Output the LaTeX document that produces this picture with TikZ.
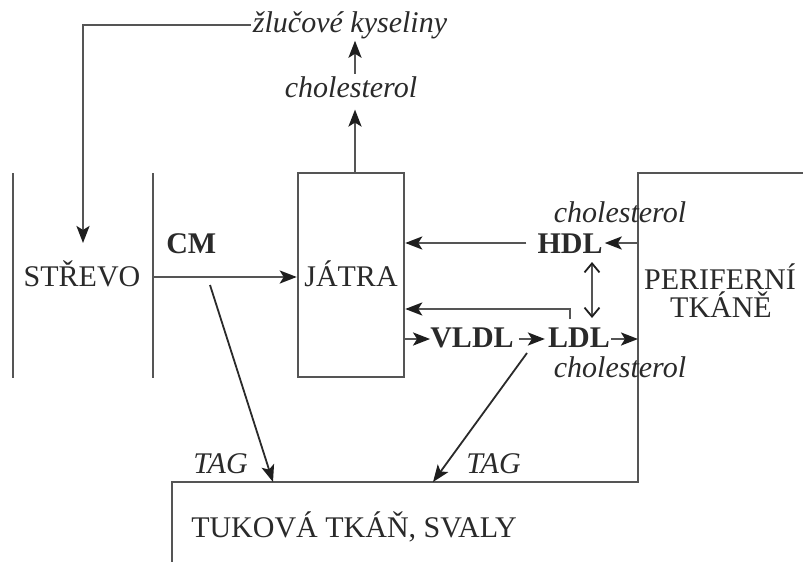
\documentclass[tikz,border=0pt]{standalone}
\usepackage{fontspec}
\setmainfont{Liberation Serif}
\usetikzlibrary{arrows.meta}
\definecolor{ln}{HTML}{555555}
\definecolor{txt}{HTML}{2A2A2A}
\definecolor{tip}{HTML}{1E1E1E}
\begin{document}
\begin{tikzpicture}[x=1pt,y=-1pt,line width=2.5pt,draw=ln,
  lbl/.style={inner sep=0pt,text=txt,font=\fontsize{30}{34}\selectfont},
  itl/.style={lbl,font=\fontsize{30}{34}\selectfont\itshape},
  bfl/.style={lbl,font=\fontsize{30}{34}\selectfont\bfseries},
  arr/.style={-{Stealth[length=17pt,width=13pt,inset=4pt,color=tip]}},
  dbl/.style={{Straight Barb[length=9pt,width=15pt,color=tip,line width=1.8pt]}-{Straight Barb[length=9pt,width=15pt,color=tip,line width=1.8pt]}},
  box/.style={draw=ln,minimum width=106pt,minimum height=204pt,inner sep=0pt}]
\useasboundingbox (0,0) rectangle (803,562);
\fill[white] (0,0) rectangle (803,562);
% intestine walls
\coordinate (s1t) at (13,173); \coordinate (s1b) at (13,378);
\coordinate (s2t) at (153,173); \coordinate (s2b) at (153,378);
\draw (s1t) -- (s1b);
\draw (s2t) -- (s2b);
\node[lbl,anchor=base] (strevo) at (82,286) {STŘEVO};
\node[bfl,anchor=base west] (cm) at (165,253) {CM};
% liver
\node[box] (jatra) at (351,275) {};
\node[lbl,anchor=base] (jatratxt) at (351,286) {JÁTRA};
\coordinate (cmfrom) at (153,277);
\draw[arr] (cmfrom) -- (cmfrom -| jatra.west);
% top
\node[itl,anchor=base] (chol1) at (351,97) {cholesterol};
\node[itl,anchor=base] (zk) at (350,32) {žlučové kyseliny};
\draw[arr] ([xshift=4pt]jatra.north) -- ([xshift=4pt,yshift=-11pt]chol1.south);
\draw[arr] ([xshift=4pt,yshift=1pt]chol1.north) -- ([xshift=5pt,yshift=-1pt]zk.south);
\coordinate (fb) at (83,25);
\coordinate (fbend) at (83,243);
\draw[arr] ([xshift=-1pt]zk.west |- fb) -- (fb) -- (fbend);
% peripheral tissue outline
\coordinate (pr) at (803,173); \coordinate (pt) at (638,173);
\coordinate (pb) at (638,482); \coordinate (tl) at (172,482);
\coordinate (tb) at (172,562);
\draw (pr) -- (pt) -- (pb) -- (tl) -- (tb);
\node[lbl,anchor=base] (perif) at (720,289) {PERIFERNÍ};
\node[lbl,anchor=base] (tkane) at (721,317) {TKÁNĚ};
% HDL
\node[bfl,anchor=base] (hdl) at (570,253) {HDL};
\node[itl,anchor=base] (cholh) at (620,222) {cholesterol};
\coordinate (phdl) at (638,243);
\draw[arr] (phdl) -- ([xshift=1pt]phdl -| hdl.east);
\draw[arr] ([xshift=-10pt]hdl.west |- phdl) -- (phdl -| jatra.east);
% back arrow to liver
\coordinate (tick) at (570,319); \coordinate (tickt) at (570,309);
\draw[arr] (tick) -- (tickt) -- (tickt -| jatra.east);
% HDL <-> LDL
\coordinate (dA) at (592,262); \coordinate (dB) at (592,318);
\draw[dbl,line width=1.8pt] (dA) -- (dB);
% VLDL / LDL row
\node[bfl,anchor=base] (vldl) at (472,347) {VLDL};
\node[bfl,anchor=base] (ldl) at (579,347) {LDL};
\node[itl,anchor=base] (chold) at (620,377) {cholesterol};
\coordinate (vrow) at (0,339);
\draw[arr] (jatra.east |- vrow) -- ([xshift=1pt]vldl.west |- vrow);
\draw[arr] ([xshift=4pt]vldl.east |- vrow) -- ([xshift=-2pt]ldl.west |- vrow);
\draw[arr] (ldl.east |- vrow) -- (pt |- vrow);
% TAG arrows
\coordinate (d1) at (210,285); \coordinate (d1e) at (273,482);
\coordinate (d2) at (527,353); \coordinate (d2e) at (433,482);
\draw[arr,line width=1.8pt,draw=txt] (d1) -- (d1e);
\draw[arr,line width=1.8pt,draw=txt] (d2) -- (d2e);
\node[itl,anchor=base west] (tag1) at (192,473) {TAG};
\node[itl,anchor=base west] (tag2) at (465,473) {TAG};
% fat tissue
\node[lbl,anchor=base west] (tuk) at (190,537) {TUKOVÁ TKÁŇ, SVALY};
\end{tikzpicture}
\end{document}
